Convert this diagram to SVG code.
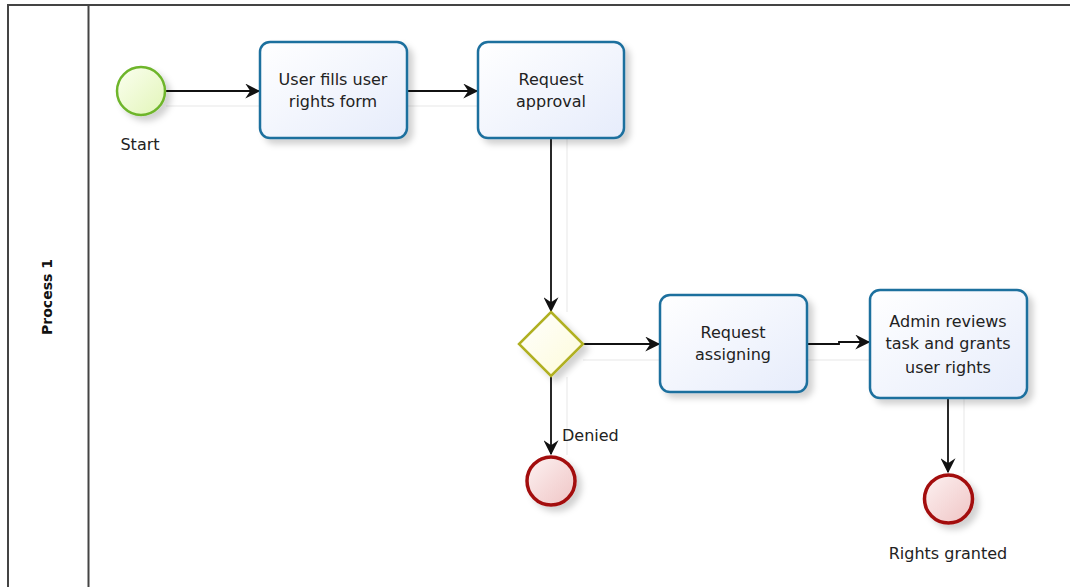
<svg xmlns="http://www.w3.org/2000/svg" width="1070" height="587" viewBox="0 0 1070 587">
<style>
.lbl{font-family:"DejaVu Sans","Open Sans",sans-serif;font-size:16px;fill:#222;text-anchor:middle}
.task{fill:url(#taskFill);stroke:#1f6f9e;stroke-width:2.5}
.flow{fill:none;stroke:#111;stroke-width:1.8}
.ghost{fill:none;stroke:#efefef;stroke-width:1.5}
.pool{fill:none;stroke:#444;stroke-width:2}
</style>
<defs>
<linearGradient id="taskFill" x1="0" y1="0" x2="1" y2="1"><stop offset="0" stop-color="#ffffff"/><stop offset="1" stop-color="#e6ecfb"/></linearGradient>
<linearGradient id="startFill" x1="0" y1="0" x2="1" y2="1"><stop offset="0" stop-color="#fbfff0"/><stop offset="1" stop-color="#e2f5b8"/></linearGradient>
<linearGradient id="endFill" x1="0" y1="0" x2="1" y2="1"><stop offset="0" stop-color="#fdf2f2"/><stop offset="1" stop-color="#efc4c4"/></linearGradient>
<linearGradient id="gwFill" x1="0" y1="0" x2="1" y2="1"><stop offset="0" stop-color="#ffffff"/><stop offset="1" stop-color="#fdfbd8"/></linearGradient>
<filter id="sh" x="-20%" y="-20%" width="150%" height="150%"><feDropShadow dx="5" dy="5" stdDeviation="3" flood-color="#000" flood-opacity="0.18"/></filter>
<marker id="arr" viewBox="0 0 12 12" refX="11" refY="6" markerWidth="15" markerHeight="15" markerUnits="userSpaceOnUse" orient="auto"><path d="M0,0 L12,6 L0,12 L4,6 Z" fill="#111"/></marker>
</defs>
<g id="pool">
<path class="pool" d="M1070,5 H8 V587"/>
<line class="pool" x1="88.5" y1="5" x2="88.5" y2="587"/>
<text x="47" y="297" transform="rotate(-90 47 297)" style="font-family:'DejaVu Sans','Open Sans',sans-serif;font-size:14px;font-weight:bold;fill:#111;text-anchor:middle;dominant-baseline:central">Process 1</text>
</g>
<g id="connectors">
<path class="ghost" d="M166,106 H260"/>
<path class="ghost" d="M407,106 H478"/>
<path class="ghost" d="M567,138 V312"/>
<path class="ghost" d="M583,360 H660"/>
<path class="ghost" d="M567,377 V455"/>
<path class="ghost" d="M807,360 H870"/>
<path class="ghost" d="M964,398 V473"/>
<path class="flow" marker-end="url(#arr)" d="M166,91 H259"/>
<path class="flow" marker-end="url(#arr)" d="M407,91 H477"/>
<path class="flow" marker-end="url(#arr)" d="M551,138 V311"/>
<path class="flow" marker-end="url(#arr)" d="M583,344 H659"/>
<path class="flow" marker-end="url(#arr)" d="M551,377 V454"/>
<path class="flow" marker-end="url(#arr)" d="M807,344 H839 V342 H869"/>
<path class="flow" marker-end="url(#arr)" d="M948,398 V472"/>
<text x="562" y="441" class="lbl" style="text-anchor:start">Denied</text>
</g>
<g id="start">
<circle cx="141" cy="91" r="24" fill="url(#startFill)" stroke="#6eb52c" stroke-width="2.5" filter="url(#sh)"/>
<text x="140" y="150" class="lbl">Start</text>
</g>
<g id="task1">
<rect class="task" x="260" y="42" width="147" height="96" rx="10" filter="url(#sh)"/>
<text x="333" y="85" class="lbl">User fills user</text>
<text x="333" y="107" class="lbl">rights form</text>
</g>
<g id="task2">
<rect class="task" x="478" y="42" width="146" height="96" rx="10" filter="url(#sh)"/>
<text x="551" y="85" class="lbl">Request</text>
<text x="551" y="107" class="lbl">approval</text>
</g>
<g id="gateway">
<polygon points="551,312 583,344 551,376 519,344" fill="url(#gwFill)" stroke="#b0b020" stroke-width="2.5" filter="url(#sh)"/>
</g>
<g id="task3">
<rect class="task" x="660" y="295" width="147" height="97" rx="10" filter="url(#sh)"/>
<text x="733" y="338" class="lbl">Request</text>
<text x="733" y="360" class="lbl">assigning</text>
</g>
<g id="task4">
<rect class="task" x="870" y="290" width="157" height="108" rx="10" filter="url(#sh)"/>
<text x="948" y="327" class="lbl">Admin reviews</text>
<text x="948" y="349" class="lbl">task and grants</text>
<text x="948" y="373" class="lbl">user rights</text>
</g>
<g id="endDenied">
<circle cx="551" cy="481" r="24" fill="url(#endFill)" stroke="#a30f0f" stroke-width="3.5" filter="url(#sh)"/>
</g>
<g id="endGranted">
<circle cx="948.5" cy="499" r="24" fill="url(#endFill)" stroke="#a30f0f" stroke-width="3.5" filter="url(#sh)"/>
<text x="948" y="559" class="lbl">Rights granted</text>
</g>
</svg>
